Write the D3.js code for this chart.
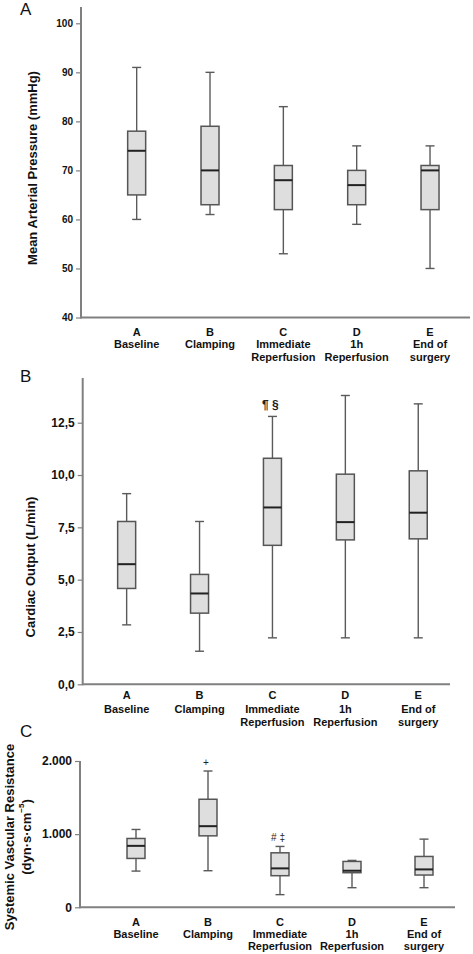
<!DOCTYPE html>
<html>
<head>
<meta charset="utf-8">
<script src="https://cdn.jsdelivr.net/npm/d3@7/dist/d3.min.js"></script>
<style>
  html, body { margin: 0; padding: 0; background: #fff; }
  svg { display: block; font-family: "Liberation Sans", Arial, sans-serif; }
</style>
</head>
<body>
<svg id="chart" width="473" height="954"></svg>
<script>
// ---------- DATA ----------
const categories = ["A", "B", "C", "D", "E"];
const categoryNames = [["Baseline"], ["Clamping"], ["Immediate", "Reperfusion"], ["1h", "Reperfusion"], ["End of", "surgery"]];

// Panel A: Mean Arterial Pressure (mmHg)
const mapMin    = [60, 61, 53, 59, 50];
const mapQ1     = [65, 63, 62, 63, 62];
const mapMedian = [74, 70, 68, 67, 70];
const mapQ3     = [78, 79, 71, 70, 71];
const mapMax    = [91, 90, 83, 75, 75];
const mapTicks  = [40, 50, 60, 70, 80, 90, 100];
const mapTickLabels = ["40", "50", "60", "70", "80", "90", "100"];

// Panel B: Cardiac Output (L/min)
const coMin    = [2.84, 1.58, 2.22, 2.22, 2.22];
const coQ1     = [4.58, 3.40, 6.64, 6.90, 6.95];
const coMedian = [5.74, 4.34, 8.45, 7.75, 8.20];
const coQ3     = [7.78, 5.25, 10.80, 10.04, 10.20];
const coMax    = [9.11, 7.78, 12.80, 13.80, 13.40];
const coTicks  = [0, 2.5, 5, 7.5, 10, 12.5];
const coTickLabels = ["0,0", "2,5", "5,0", "7,5", "10,0", "12,5"];

// Panel C: Systemic Vascular Resistance (dyn·s·cm-5)
const svrMin    = [495, 500, 173, 268, 268];
const svrQ1     = [668, 977, 432, 473, 441];
const svrMedian = [840, 1109, 532, 500, 518];
const svrQ3     = [941, 1477, 745, 627, 695];
const svrMax    = [1064, 1863, 832, 641, 932];
const svrTicks  = [0, 1000, 2000];
const svrTickLabels = ["0", "1.000", "2.000"];

// annotations: [category, text]
const coNotes  = [["C", "¶ §"]];
const svrNotes = [["B", "+"], ["C", "# \u2021"]];

// ---------- DRAW ----------
const svg = d3.select("#chart");

function panel(cfg) {
  const g = svg.append("g");
  const y = d3.scaleLinear().domain(cfg.domain).range([cfg.yBottom, cfg.yTop]);
  const x = d3.scaleBand().domain(categories).range(cfg.xRange).paddingInner(0).paddingOuter(0);
  const cx = c => x(c) + x.bandwidth() / 2;

  // y axis
  const yAxis = d3.axisLeft(y).tickValues(cfg.ticks)
    .tickFormat((d, i) => cfg.tickLabels[i]).tickSize(5).tickSizeOuter(0);
  const ya = g.append("g").attr("transform", `translate(${cfg.axisX},0)`).call(yAxis);
  ya.select(".domain").remove();
  ya.selectAll(".tick line").attr("stroke", "#808080").attr("stroke-width", 1.2);
  ya.selectAll(".tick text").attr("font-size", cfg.tickFont).attr("font-weight", "bold")
    .attr("fill", "#111").attr("x", -8);
  g.append("line").attr("x1", cfg.axisX).attr("x2", cfg.axisX)
    .attr("y1", cfg.axisTop).attr("y2", cfg.yBottom + 1)
    .attr("stroke", "#808080").attr("stroke-width", 2);

  // x axis line
  g.append("line").attr("x1", cfg.axisX).attr("x2", cfg.xAxisEnd)
    .attr("y1", cfg.yBottom).attr("y2", cfg.yBottom)
    .attr("stroke", "#808080").attr("stroke-width", 2);

  // x labels
  categories.forEach((c, i) => {
    const lines = [c].concat(categoryNames[i]);
    lines.forEach((t, j) => {
      g.append("text").attr("x", cx(c)).attr("y", cfg.yBottom + cfg.labelRows[j])
        .attr("text-anchor", "middle").attr("dominant-baseline", "central")
        .attr("font-size", 11).attr("font-weight", "bold").attr("fill", "#111").text(t);
    });
  });

  // boxes
  const bw = 18, cw = 9;
  categories.forEach((c, i) => {
    const xc = cx(c);
    const gw = g.append("g");
    gw.append("line").attr("x1", xc).attr("x2", xc).attr("y1", y(cfg.max[i])).attr("y2", y(cfg.q3[i]))
      .attr("stroke", "#5a5a5a").attr("stroke-width", 1.4);
    gw.append("line").attr("x1", xc).attr("x2", xc).attr("y1", y(cfg.q1[i])).attr("y2", y(cfg.min[i]))
      .attr("stroke", "#5a5a5a").attr("stroke-width", 1.4);
    [cfg.max[i], cfg.min[i]].forEach(v => {
      gw.append("line").attr("x1", xc - cw / 2).attr("x2", xc + cw / 2).attr("y1", y(v)).attr("y2", y(v))
        .attr("stroke", "#5a5a5a").attr("stroke-width", 1.4);
    });
    gw.append("rect").attr("x", xc - bw / 2).attr("y", y(cfg.q3[i]))
      .attr("width", bw).attr("height", Math.max(1, y(cfg.q1[i]) - y(cfg.q3[i])))
      .attr("fill", "#dedede").attr("stroke", "#555").attr("stroke-width", 1.5);
    gw.append("line").attr("x1", xc - bw / 2).attr("x2", xc + bw / 2)
      .attr("y1", y(cfg.median[i])).attr("y2", y(cfg.median[i]))
      .attr("stroke", "#222").attr("stroke-width", 2);
  });

  // annotations
  (cfg.notes || []).forEach(([c, t]) => {
    const i = categories.indexOf(c);
    g.append("text").attr("x", cx(c) - 2).attr("y", y(cfg.max[i]) - cfg.noteGap)
      .attr("text-anchor", "middle").attr("font-size", cfg.noteFont).attr("fill", "#222")
      .attr("font-weight", cfg.noteWeight || "normal").text(t);
  });

  // panel letter
  g.append("text").attr("x", 20).attr("y", cfg.letterY).attr("font-size", 17)
    .attr("fill", "#111").text(cfg.letter);

  // y title
  cfg.title.forEach((t, j) => {
    g.append("text")
      .attr("transform", `translate(${cfg.titleX[j]},${cfg.titleY}) rotate(-90)`)
      .attr("text-anchor", "middle").attr("dominant-baseline", "central")
      .attr("font-size", cfg.titleFont).attr("font-weight", "bold").attr("fill", "#111")
      .html(t);
  });
}

panel({
  letter: "A", letterY: 15,
  domain: [40, 100], yBottom: 317.5, yTop: 23.3, axisTop: 7,
  axisX: 81, xAxisEnd: 470, xRange: [100, 466.7],
  ticks: mapTicks, tickLabels: mapTickLabels, tickFont: 10,
  min: mapMin, q1: mapQ1, median: mapMedian, q3: mapQ3, max: mapMax,
  labelRows: [14, 26, 39],
  title: ["Mean Arterial Pressure (mmHg)"], titleX: [32], titleY: 168, titleFont: 13
});

panel({
  letter: "B", letterY: 381.5,
  domain: [0, 12.5], yBottom: 684.3, yTop: 422.7, axisTop: 378,
  axisX: 82.7, xAxisEnd: 450, xRange: [90.2, 454.7],
  ticks: coTicks, tickLabels: coTickLabels, tickFont: 12,
  min: coMin, q1: coQ1, median: coMedian, q3: coQ3, max: coMax,
  labelRows: [11, 25, 38],
  notes: coNotes, noteGap: 7, noteFont: 12, noteWeight: "bold",
  title: ["Cardiac Output (L/min)"], titleX: [30], titleY: 567, titleFont: 13
});

panel({
  letter: "C", letterY: 737,
  domain: [0, 2000], yBottom: 907.3, yTop: 761, axisTop: 761,
  axisX: 80, xAxisEnd: 455, xRange: [100, 460],
  ticks: svrTicks, tickLabels: svrTickLabels, tickFont: 12,
  min: svrMin, q1: svrQ1, median: svrMedian, q3: svrQ3, max: svrMax,
  labelRows: [15, 27, 39],
  notes: svrNotes, noteGap: 5, noteFont: 10,
  title: ["Systemic Vascular Resistance", "(dyn\u00b7s\u00b7cm<tspan baseline-shift='super' font-size='8'>\u22125</tspan>)"],
  titleX: [9, 26], titleY: 837, titleFont: 13
});
</script>
</body>
</html>
